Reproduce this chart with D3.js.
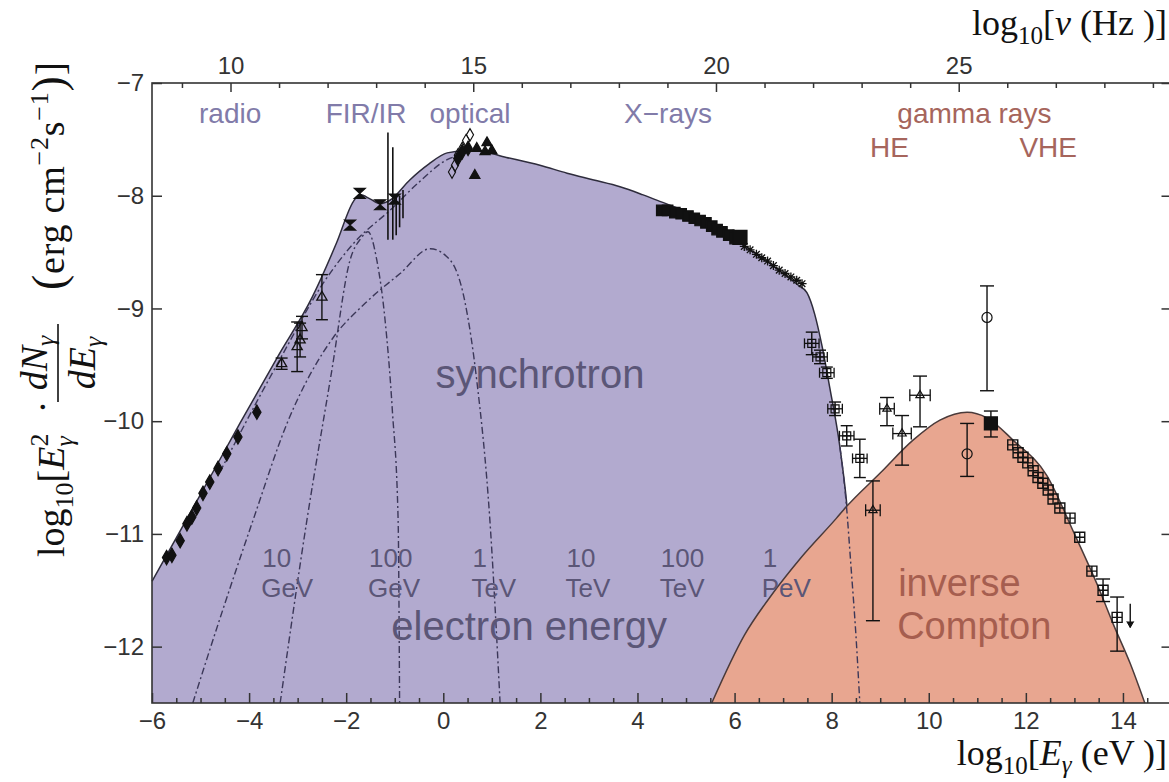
<!DOCTYPE html>
<html>
<head>
<meta charset="utf-8">
<script src="https://cdn.jsdelivr.net/npm/d3@7"></script>
<style>
  body { margin: 0; background: #fff; }
  text { font-family: "Liberation Sans", Arial, sans-serif; }
  .serif { font-family: "Liberation Serif", "Times New Roman", serif; }
</style>
</head>
<body>
<script>
const W = 1169, H = 782;

// ---- data (log10 E [eV], log10 E^2 dN/dE) ----
// synchrotron envelope
const synE = [-6.0, -5.0, -4.19, -3.4, -2.7, -2.2, -1.85, -1.72, -1.5, -1.3, -1.1, -0.69, -0.3, 0.08, 0.49, 0.69, 1.3, 1.99, 2.55, 3.1, 3.64, 4.1, 4.46, 5.0, 5.6, 6.26, 6.94, 7.3, 7.49, 7.65, 7.8, 7.96, 8.17, 8.31, 8.42, 8.5, 8.56];
const synY = [-11.42, -10.65, -10.02, -9.42, -8.9, -8.42, -8.05, -7.99, -8.03, -8.07, -8.04, -7.86, -7.72, -7.62, -7.6, -7.6, -7.66, -7.73, -7.8, -7.86, -7.92, -7.99, -8.05, -8.14, -8.28, -8.46, -8.67, -8.79, -8.86, -9.05, -9.33, -9.7, -10.23, -10.73, -11.3, -11.9, -12.5];
// inverse Compton
const icE = [5.53, 6.2, 6.8, 7.35, 8.1, 8.3, 9.0, 9.67, 10.23, 10.79, 11.2, 11.74, 12.43, 13.0, 13.5, 13.8, 14.15, 14.45];
const icY = [-12.5, -11.9, -11.52, -11.22, -10.86, -10.76, -10.46, -10.17, -9.99, -9.92, -9.97, -10.17, -10.48, -11.0, -11.48, -11.8, -12.15, -12.5];

// single electron-energy components (dash-dot)
const domeE = [-5.16, -4.6, -3.92, -3.2, -2.27, -1.6, -0.89, -0.27, 0.14, 0.45, 0.69, 0.96, 1.17];
const domeY = [-12.5, -11.75, -10.88, -10.0, -9.26, -8.95, -8.69, -8.47, -8.57, -8.95, -9.64, -10.88, -12.5];
const narrowE = [-3.36, -2.81, -2.3, -1.92, -1.7, -1.55, -1.37, -1.2, -1.05, -0.93, -0.9];
const narrowY = [-12.5, -10.88, -9.56, -8.57, -8.38, -8.32, -8.57, -9.1, -9.9, -10.88, -12.5];
const radioLineE = [-4.6, -4.19, -3.3, -2.48, -1.8, -1.1, -0.5, 0.08, 0.34];
const radioLineY = [-10.45, -10.11, -9.4, -8.78, -8.4, -8.13, -7.88, -7.68, -7.64];
const pevE = [8.17, 8.3, 8.4, 8.5, 8.58];
const pevY = [-10.23, -10.73, -11.3, -11.9, -12.5];

// measurements
const radioE = [-5.7, -5.59, -5.42, -5.28, -5.18, -5.08, -4.95, -4.81, -4.64, -4.46, -4.23, -3.84];
const radioY = [-11.21, -11.19, -11.06, -10.91, -10.85, -10.77, -10.64, -10.54, -10.42, -10.29, -10.14, -9.92];
const mmE = [-3.33, -3.01, -2.95, -2.91, -2.5];
const mmY = [-9.49, -9.34, -9.28, -9.17, -8.9];
const mmErr = [0.05, 0.22, 0.15, 0.1, 0.2];
const irE = [-1.92, -1.72, -1.3, -1.0];
const irY = [-8.26, -7.98, -8.08, -8.03];
const firE = [-1.14, -1.04, -0.97, -0.9, -0.83];
const firTop = [-7.44, -7.57, -8.0, -8.0, -7.95];
const firBot = [-8.39, -8.39, -8.35, -8.28, -8.2];
const optE = [0.55, 0.47, 0.39, 0.30, 0.24, 0.18];
const optY = [-7.46, -7.51, -7.58, -7.64, -7.73, -7.79];
const optFillE = [0.39, 0.51, 0.30];
const optFillY = [-7.61, -7.58, -7.67];
const optTriE = [0.69, 0.9, 0.86, 1.0, 0.65];
const optTriY = [-7.58, -7.53, -7.61, -7.6, -7.82];
const xrayE = [4.5, 4.62, 4.77, 4.9, 5.04, 5.17, 5.29, 5.41, 5.53, 5.64, 5.74, 5.88, 6.01];
const xrayY = [-8.13, -8.13, -8.15, -8.16, -8.18, -8.2, -8.22, -8.24, -8.27, -8.3, -8.32, -8.35, -8.38];
const hxE = [6.2, 6.32, 6.45, 6.56, 6.68, 6.8, 6.92, 7.04, 7.16, 7.28, 7.39];
const hxY = [-8.45, -8.48, -8.52, -8.55, -8.58, -8.62, -8.66, -8.69, -8.72, -8.75, -8.78];
const softE = [7.59, 7.76, 7.9, 8.07, 8.31, 8.58];
const softY = [-9.31, -9.43, -9.57, -9.89, -10.13, -10.33];
const softErr = [0.1, 0.06, 0.05, 0.06, 0.09, 0.17];
const gE = [8.85, 9.14, 9.45, 9.82];
const gY = [-10.79, -9.89, -10.11, -9.77];
const gLo = [-11.77, -10.04, -10.39, -10.05];
const gHi = [-10.53, -9.79, -9.95, -9.6];
const gDx = [0.15, 0.15, 0.19, 0.21];
const circE = [10.79, 11.2];
const circY = [-10.29, -9.08];
const circLo = [-10.49, -9.73];
const circHi = [-10.02, -8.8];
const magicE = [11.28], magicY = [-10.02], magicLo = [-10.14], magicHi = [-9.91];
const hessE = [11.73, 11.84, 11.94, 12.04, 12.15, 12.25, 12.35, 12.46, 12.56, 12.7, 12.91, 13.11, 13.36, 13.59, 13.88];
const hessY = [-10.21, -10.28, -10.32, -10.37, -10.44, -10.5, -10.55, -10.61, -10.69, -10.77, -10.86, -11.03, -11.33, -11.5, -11.74];
const hessLo = [null, null, null, null, null, null, null, null, null, null, null, null, null, -11.6, -12.04];
const hessHi = [null, null, null, null, null, null, null, null, null, null, null, null, null, -11.4, -11.56];
const ulE = [14.15], ulTop = [-11.62], ulBot = [-11.83];

// axis ticks
const xMajor = [-6, -4, -2, 0, 2, 4, 6, 8, 10, 12, 14];
const yMajor = [-12, -11, -10, -9, -8, -7];
const nuMajor = [10, 15, 20, 25];
const nuOffset = 14.383; // log10(1 eV / h)

// labels
const bandLabels = ["radio", "FIR/IR", "optical", "X\u2212rays"];
const bandE = [-4.39, -1.59, 0.55, 4.63];
const gammaLabels = ["gamma rays", "HE", "VHE"];
const gammaE = [10.94, 9.19, 12.46];
const gammaY = [-7.355, -7.657, -7.657];
const eNum = ["10", "100", "1", "10", "100", "1"];
const eUnit = ["GeV", "GeV", "TeV", "TeV", "TeV", "PeV"];
const eLabelE = [-3.73, -1.53, 0.6, 2.54, 4.48, 6.58];

// ---- scales ----
const x = d3.scaleLinear().domain([-6, 15]).range([152, 1171.5]);
const y = d3.scaleLinear().domain([-12.5, -7]).range([703, 83]);
const xNu = d3.scaleLinear().domain([-6 + nuOffset, 15 + nuOffset]).range([152, 1171.5]);

const purple = "#b2aacf", salmon = "#e8a690";
const svg = d3.select("body").append("svg").attr("width", W).attr("height", H);
const plot = svg.append("g");

const zip = (a, b) => a.map((v, i) => [v, b[i]]);
const area = d3.area().x(d => x(d[0])).y0(y(-12.5)).y1(d => y(d[1])).curve(d3.curveMonotoneX);
const line = d3.line().x(d => x(d[0])).y(d => y(d[1])).curve(d3.curveMonotoneX);

// fills
plot.append("path").attr("d", area(zip(synE, synY))).attr("fill", purple);
plot.append("path").attr("d", line(zip(synE, synY))).attr("fill", "none").attr("stroke", "#2e2c3c").attr("stroke-width", 1.5);

const dashStyle = (p) => p.attr("fill", "none").attr("stroke", "#3b3758").attr("stroke-width", 1.4).attr("stroke-dasharray", "7,3,2,3");
dashStyle(plot.append("path").attr("d", line(zip(domeE, domeY))));
dashStyle(plot.append("path").attr("d", line(zip(narrowE, narrowY))));
dashStyle(plot.append("path").attr("d", line(zip(radioLineE, radioLineY))));

plot.append("path").attr("d", area(zip(icE, icY))).attr("fill", salmon);
plot.append("path").attr("d", line(zip(icE, icY))).attr("fill", "none").attr("stroke", "#4a3a3a").attr("stroke-width", 1.5);
dashStyle(plot.append("path").attr("d", line(zip(pevE, pevY))));

// ---- text labels in plot ----
const lab = (txt, xx, yy, size, col, anchor) => svg.append("text").attr("x", xx).attr("y", yy)
  .attr("font-size", size).attr("fill", col).attr("text-anchor", anchor || "middle").text(txt);
// two-line label kept as one text element
const lab2 = (l1, l2, xx, yy, gap, size, col) => {
  const t = svg.append("text").attr("x", xx).attr("y", yy).attr("font-size", size).attr("fill", col);
  t.append("tspan").attr("x", xx).text(l1);
  t.append("tspan").attr("x", xx - 1).attr("dy", gap).text(l2);
  return t;
};

bandLabels.forEach((t, i) => lab(t, x(bandE[i]), y(-7.355), 28, "#817ba9"));
gammaLabels.forEach((t, i) => lab(t, x(gammaE[i]), y(gammaY[i]), 28, "#a6655c"));
lab("synchrotron", x(1.99), y(-9.71), 40, "#5b5677");
lab("electron energy", x(1.77), y(-11.94), 40, "#5b5677");
eNum.forEach((t, i) => lab2(t, eUnit[i], x(eLabelE[i]), y(-11.29), 30, 26, "#5b5677"));
lab2("inverse", "Compton", x(9.37), y(-11.55), 43, 38, "#a65e4f");

// ---- markers ----
const mk = svg.append("g");
const ink = "#111";
const errV = (xs, lo, hi, cap) => xs.forEach((e, i) => {
  if (lo[i] == null) return;
  mk.append("line").attr("x1", x(e)).attr("x2", x(e)).attr("y1", y(lo[i])).attr("y2", y(hi[i])).attr("stroke", ink).attr("stroke-width", 1.4);
  [lo[i], hi[i]].forEach(v => mk.append("line").attr("x1", x(e) - cap).attr("x2", x(e) + cap).attr("y1", y(v)).attr("y2", y(v)).attr("stroke", ink).attr("stroke-width", 1.4));
});
const errH = (xs, ys, dx, cap) => xs.forEach((e, i) => {
  mk.append("line").attr("x1", x(e - dx[i])).attr("x2", x(e + dx[i])).attr("y1", y(ys[i])).attr("y2", y(ys[i])).attr("stroke", ink).attr("stroke-width", 1.3);
  [e - dx[i], e + dx[i]].forEach(v => mk.append("line").attr("x1", x(v)).attr("x2", x(v)).attr("y1", y(ys[i]) - cap).attr("y2", y(ys[i]) + cap).attr("stroke", ink).attr("stroke-width", 1.3));
});
const sym = (xs, ys, pathStr, fill, sw) => xs.forEach((e, i) => mk.append("path")
  .attr("transform", `translate(${x(e)},${y(ys[i])})`).attr("d", pathStr)
  .attr("fill", fill).attr("stroke", ink).attr("stroke-width", sw || 1.2));

const diamond = d3.symbol(d3.symbolDiamond, 60)();
const tri = d3.symbol(d3.symbolTriangle, 45)();
const square = d3.symbol(d3.symbolSquare, 110)();
const boxCross = (s) => `M${-s},${-s}H${s}V${s}H${-s}Z M${-s},0H${s} M0,${-s}V${s}`;
const star = "M-4.5,0H4.5M0,-4.5V4.5M-3.3,-3.3L3.3,3.3M-3.3,3.3L3.3,-3.3";
const hourglass = "M-5.5,-5H5.5L0,0Z M-5.5,5H5.5L0,0Z";

sym(radioE, radioY, diamond, ink);
errV(mmE, mmE.map((v, i) => mmY[i] - mmErr[i]), mmE.map((v, i) => mmY[i] + mmErr[i]), 6);
sym(mmE, mmY, tri, "none", 1.3);
sym(irE, irY, hourglass, ink);
firE.forEach((e, i) => mk.append("line").attr("x1", x(e)).attr("x2", x(e)).attr("y1", y(firTop[i])).attr("y2", y(firBot[i])).attr("stroke", ink).attr("stroke-width", 1.6));
sym(optE, optY, d3.symbol(d3.symbolDiamond, 45)(), "none", 1.1);
sym(optFillE, optFillY, diamond, ink);
sym(optTriE, optTriY, tri, ink);
sym(xrayE, xrayY, square, ink);
sym([6.11], [-8.37], d3.symbol(d3.symbolSquare, 200)(), ink);
sym(hxE, hxY, star, "none", 1.3);
errV(softE, softE.map((v, i) => softY[i] - softErr[i]), softE.map((v, i) => softY[i] + softErr[i]), 6);
errH(softE, softY, softE.map(() => 0.15), 5);
sym(softE, softY, boxCross(4), "none", 1.2);
errV(gE, gLo, gHi, 7);
errH(gE, gY, gDx, 6);
sym(gE, gY, d3.symbol(d3.symbolTriangle, 30)(), "none", 1.2);
errV(circE, circLo, circHi, 7);
sym(circE, circY, d3.symbol(d3.symbolCircle, 80)(), "none", 1.2);
errV(magicE, magicLo, magicHi, 7);
sym(magicE, magicY, d3.symbol(d3.symbolSquare, 170)(), ink);
errV(hessE, hessLo, hessHi, 7);
sym(hessE, hessY, boxCross(5), "none", 1.4);
ulE.forEach((e, i) => {
  mk.append("line").attr("x1", x(e)).attr("x2", x(e)).attr("y1", y(ulTop[i])).attr("y2", y(ulBot[i])).attr("stroke", ink).attr("stroke-width", 1.4);
  mk.append("path").attr("d", `M${x(e) - 3.5},${y(ulBot[i]) - 6}L${x(e)},${y(ulBot[i])}L${x(e) + 3.5},${y(ulBot[i]) - 6}`).attr("fill", ink).attr("stroke", ink);
});

// ---- axes ----
const axCol = "#333";
const styleAxis = (g) => {
  g.select(".domain").remove();
  g.selectAll("line").attr("stroke", axCol).attr("stroke-width", 1.5);
  g.selectAll("text").attr("fill", axCol).attr("font-size", 24).attr("font-family", "Liberation Sans, Arial, sans-serif");
};
const xMinor = d3.range(-6, 15.01, 0.5).filter(v => !xMajor.includes(v));
const nuMinor = d3.range(9, 30, 1).filter(v => !nuMajor.includes(v));

svg.append("g").attr("transform", `translate(0,${y(-12.5)})`)
  .call(d3.axisBottom(x).tickValues(xMajor).tickSize(-10).tickPadding(9).tickFormat(d3.format("d"))).call(styleAxis);
svg.append("g").attr("transform", `translate(0,${y(-12.5)})`)
  .call(d3.axisBottom(x).tickValues(xMinor).tickSize(-5).tickFormat("")).call(styleAxis);
svg.append("g").attr("transform", `translate(0,${y(-7)})`)
  .call(d3.axisTop(xNu).tickValues(nuMajor).tickSize(-9).tickPadding(9).tickFormat(d3.format("d"))).call(styleAxis);
svg.append("g").attr("transform", `translate(0,${y(-7)})`)
  .call(d3.axisTop(xNu).tickValues(nuMinor).tickSize(-5).tickFormat("")).call(styleAxis);
svg.append("g").attr("transform", `translate(${x(-6)},0)`)
  .call(d3.axisLeft(y).tickValues(yMajor).tickSize(-10).tickPadding(8).tickFormat(d3.format("d"))).call(styleAxis);
svg.append("g").attr("transform", `translate(${x(15)},0)`)
  .call(d3.axisRight(y).tickValues(yMajor).tickSize(-10).tickFormat("")).call(styleAxis);

svg.append("rect").attr("x", x(-6)).attr("y", y(-7)).attr("width", x(15) - x(-6)).attr("height", y(-12.5) - y(-7))
  .attr("fill", "none").attr("stroke", axCol).attr("stroke-width", 1.6);

// ---- axis titles (serif) ----
const title = (xx, yy, parts, anchor) => {
  const t = svg.append("text").attr("class", "serif").attr("x", xx).attr("y", yy).attr("font-size", 36)
    .attr("fill", "#111").attr("text-anchor", anchor || "end");
  parts.forEach(p => {
    const s = t.append("tspan").text(p.t);
    if (p.dy) s.attr("dy", p.dy);
    if (p.size) s.attr("font-size", p.size);
    if (p.it) s.attr("font-style", "italic");
  });
  return t;
};
title(1167, 35, [{ t: "log" }, { t: "10", size: 25, dy: 9 }, { t: "[", dy: -9 }, { t: "\u03bd", it: 1 }, { t: " (Hz )]" }]);
title(1167, 765, [{ t: "log" }, { t: "10", size: 25, dy: 9 }, { t: "[", dy: -9 }, { t: "E", it: 1 }, { t: "\u03b3", it: 1, size: 25, dy: 8 }, { t: " (eV )]", dy: -8 }]);

// rotated y title with a fraction; local x runs upward from screen y = 557
const yt = svg.append("g").attr("transform", "translate(64,557) rotate(-90)");
const serifText = (xx, yy, size) => yt.append("text").attr("class", "serif").attr("font-size", size)
  .attr("fill", "#111").attr("x", xx).attr("y", yy);
const t1 = serifText(0, 0, 38);
t1.append("tspan").text("log");
t1.append("tspan").attr("font-size", 26).attr("dy", 9).text("10");
t1.append("tspan").attr("dy", -9).text("[");
t1.append("tspan").attr("font-style", "italic").text("E");
t1.append("tspan").attr("font-size", 26).attr("dy", -16).text("2");
t1.append("tspan").attr("font-size", 26).attr("font-style", "italic").attr("dx", -13).attr("dy", 25).text("\u03b3");
serifText(150, -9, 38).attr("text-anchor", "middle").text("\u00b7");
const fracC = 194, fracW = 78;
const num = serifText(fracC, -17, 38).attr("text-anchor", "middle");
num.append("tspan").attr("font-style", "italic").text("dN");
num.append("tspan").attr("font-style", "italic").attr("font-size", 26).attr("dy", 7).text("\u03b3");
const den = serifText(fracC, 31, 38).attr("text-anchor", "middle");
den.append("tspan").attr("font-style", "italic").text("dE");
den.append("tspan").attr("font-style", "italic").attr("font-size", 26).attr("dy", 7).text("\u03b3");
yt.append("line").attr("x1", fracC - fracW / 2).attr("x2", fracC + fracW / 2).attr("y1", -6).attr("y2", -6)
  .attr("stroke", "#111").attr("stroke-width", 1.6);
const t3 = serifText(267, 0, 38).attr("textLength", 228).attr("lengthAdjust", "spacing");
t3.append("tspan").attr("font-size", 46).text("(");
t3.append("tspan").text("erg cm");
t3.append("tspan").attr("font-size", 26).attr("dy", -16).text("\u22122");
t3.append("tspan").attr("dy", 16).text("s");
t3.append("tspan").attr("font-size", 26).attr("dy", -16).text("\u22121");
t3.append("tspan").attr("font-size", 46).attr("dy", 16).text(")");
t3.append("tspan").attr("font-size", 40).text("]");
</script>
</body>
</html>
